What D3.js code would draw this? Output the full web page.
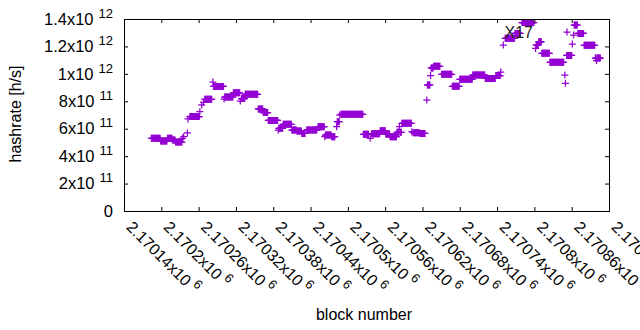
<!DOCTYPE html>
<html>
<head>
<meta charset="utf-8">
<script src="https://cdn.jsdelivr.net/npm/d3@7"></script>
<style>
  body { margin: 0; background: #fff; }
  svg { display: block; font-family: "Liberation Sans", Arial, sans-serif; }
</style>
</head>
<body>
<div id="chart"></div>
<script>
// runs of blocks sharing one hashrate value (start block, end block, h/s)
var runStart = [2170184, 2170199, 2170210, 2170218, 2170223, 2170234, 2170236, 2170242, 2170243, 2170246,
                2170262, 2170265, 2170268, 2170270, 2170283, 2170284, 2170301, 2170302, 2170316, 2170327,
                2170329, 2170335, 2170356, 2170364, 2170372, 2170388, 2170389, 2170396, 2170410, 2170418,
                2170426, 2170434, 2170452, 2170463, 2170464, 2170474, 2170482, 2170483, 2170487, 2170489,
                2170525, 2170536, 2170538, 2170552, 2170561, 2170568, 2170579, 2170583, 2170584, 2170587,
                2170603, 2170605, 2170616, 2170627, 2170628, 2170633, 2170634, 2170638, 2170651, 2170668,
                2170680, 2170701, 2170721, 2170738, 2170746, 2170750, 2170753, 2170769, 2170780, 2170802,
                2170803, 2170807, 2170812, 2170825, 2170849, 2170850, 2170852, 2170861, 2170863, 2170864,
                2170870, 2170880, 2170898, 2170900, 2170901];
var runEnd   = [2170198, 2170209, 2170217, 2170222, 2170233, 2170234, 2170236, 2170242, 2170243, 2170261,
                2170262, 2170265, 2170268, 2170281, 2170283, 2170300, 2170301, 2170315, 2170326, 2170327,
                2170334, 2170355, 2170363, 2170371, 2170387, 2170388, 2170395, 2170409, 2170417, 2170425,
                2170431, 2170450, 2170462, 2170463, 2170473, 2170479, 2170482, 2170486, 2170487, 2170524,
                2170533, 2170536, 2170551, 2170560, 2170567, 2170578, 2170582, 2170583, 2170586, 2170602,
                2170603, 2170615, 2170624, 2170627, 2170632, 2170633, 2170637, 2170648, 2170667, 2170679,
                2170700, 2170720, 2170737, 2170745, 2170746, 2170750, 2170768, 2170777, 2170799, 2170802,
                2170806, 2170811, 2170824, 2170847, 2170849, 2170850, 2170860, 2170861, 2170863, 2170869,
                2170879, 2170897, 2170899, 2170900, 2170906];
var runHashrate = [5.30e11, 5.10e11, 5.30e11, 5.18e11, 5.03e11, 5.30e11, 5.42e11, 5.69e11, 6.71e11, 6.89e11,
                   7.24e11, 7.73e11, 7.92e11, 8.14e11, 9.40e11, 9.08e11, 8.16e11, 8.31e11, 8.62e11, 8.02e11,
                   8.20e11, 8.51e11, 7.44e11, 7.18e11, 6.60e11, 5.90e11, 6.03e11, 6.32e11, 5.90e11, 5.83e11,
                   5.66e11, 5.90e11, 6.15e11, 5.42e11, 5.54e11, 5.42e11, 6.15e11, 6.51e11, 7.00e11, 7.05e11,
                   5.59e11, 5.30e11, 5.63e11, 5.85e11, 5.61e11, 5.42e11, 5.74e11, 6.15e11, 5.74e11, 6.39e11,
                   5.78e11, 5.71e11, 5.66e11, 8.09e11, 9.19e11, 9.88e11, 10.43e11, 10.55e11, 9.97e11, 9.09e11,
                   9.60e11, 9.91e11, 9.67e11, 9.88e11, 10.13e11, 12.10e11, 12.59e11, 12.95e11, 13.74e11, 11.85e11,
                   12.10e11, 12.34e11, 11.50e11, 10.84e11, 9.91e11, 9.31e11, 11.34e11, 12.17e11, 12.83e11, 13.56e11,
                   12.95e11, 12.08e11, 11.15e11, 10.97e11, 11.15e11];

var xTicks = [2170140, 2170200, 2170260, 2170320, 2170380, 2170440, 2170500,
              2170560, 2170620, 2170680, 2170740, 2170800, 2170860, 2170920];
var xTickMantissa = ["2.17014", "2.1702", "2.17026", "2.17032", "2.17038", "2.17044", "2.1705",
                     "2.17056", "2.17062", "2.17068", "2.17074", "2.1708", "2.17086", "2.1709"];
var yTicks = [0, 2e11, 4e11, 6e11, 8e11, 1e12, 1.2e12, 1.4e12];
var yTickMantissa = ["0", "2", "4", "6", "8", "1", "1.2", "1.4"];
var yTickExponent = ["", "11", "11", "11", "11", "12", "12", "12"];

var seriesName = "X17";
var color = "#9400d3";

var width = 640, height = 330;
var plotLeft = 124, plotRight = 609, plotTop = 19, plotBottom = 211;

// one point per block inside each run
var points = [];
runStart.forEach(function (s, i) {
    for (var b = s; b <= runEnd[i]; b++) points.push({ block: b, value: runHashrate[i] });
});

var x = d3.scaleLinear().domain([xTicks[0], xTicks[xTicks.length - 1]]).range([plotLeft, plotRight]);
var y = d3.scaleLinear().domain([0, 1.4e12]).range([plotBottom, plotTop]);

var svg = d3.select("#chart").append("svg")
    .attr("width", width)
    .attr("height", height);

svg.append("rect").attr("width", width).attr("height", height).attr("fill", "#fff");

var plus = "M-3.5,0H3.5M0,-3.5V3.5";

// points
svg.append("g")
    .selectAll("path")
    .data(points)
    .join("path")
    .attr("d", plus)
    .attr("transform", function (d) { return "translate(" + x(d.block) + "," + y(d.value) + ")"; })
    .attr("fill", "none")
    .attr("stroke", color)
    .attr("stroke-width", 1.25);

// axes, ticks pointing inwards like gnuplot
var axisStyle = function (g) {
    g.selectAll(".domain").remove();
    g.selectAll(".tick line").attr("stroke", "#000");
};

var gx = svg.append("g")
    .attr("transform", "translate(0," + plotBottom + ")")
    .call(d3.axisBottom(x).tickValues(xTicks).tickSizeInner(-4).tickSizeOuter(0).tickFormat(""))
    .call(axisStyle);

gx.selectAll(".tick text")
    .attr("y", 0)
    .attr("dy", 0)
    .attr("text-anchor", "start")
    .attr("font-size", 16)
    .attr("fill", "#000")
    .attr("transform", "translate(1,17) rotate(45)")
    .each(function (d, i) {
        var t = d3.select(this);
        t.append("tspan").text(xTickMantissa[i] + "x10");
        t.append("tspan").attr("dx", 4).attr("dy", -7).attr("font-size", 12.8).text("6");
    });

svg.append("g")
    .attr("transform", "translate(0," + plotTop + ")")
    .call(d3.axisTop(x).tickValues(xTicks).tickSizeInner(-4).tickSizeOuter(0).tickFormat(""))
    .call(axisStyle);

var gy = svg.append("g")
    .attr("transform", "translate(" + plotLeft + ",0)")
    .call(d3.axisLeft(y).tickValues(yTicks).tickSizeInner(-4).tickSizeOuter(0).tickPadding(11).tickFormat(""))
    .call(axisStyle);

gy.selectAll(".tick text")
    .attr("font-size", 16.5)
    .attr("fill", "#000")
    .each(function (d, i) {
        var t = d3.select(this);
        if (yTickExponent[i] === "") {
            t.text(yTickMantissa[i]);
        } else {
            t.append("tspan").text(yTickMantissa[i] + "x10");
            t.append("tspan").attr("dx", 5).attr("dy", -7).attr("font-size", 13).text(yTickExponent[i]);
        }
    });

svg.append("g")
    .attr("transform", "translate(" + plotRight + ",0)")
    .call(d3.axisRight(y).tickValues(yTicks).tickSizeInner(-4).tickSizeOuter(0).tickFormat(""))
    .call(axisStyle);

// frame
svg.append("rect")
    .attr("x", plotLeft + 0.5).attr("y", plotTop + 0.5)
    .attr("width", plotRight - plotLeft).attr("height", plotBottom - plotTop)
    .attr("fill", "none").attr("stroke", "#000").attr("stroke-width", 1);

// key
svg.append("text")
    .attr("x", 533).attr("y", 38)
    .attr("text-anchor", "end")
    .attr("font-size", 16)
    .attr("fill", "#222")
    .text(seriesName);
svg.append("path")
    .attr("d", plus)
    .attr("transform", "translate(567,32)")
    .attr("fill", "none")
    .attr("stroke", color)
    .attr("stroke-width", 1.25);

// axis titles
svg.append("text")
    .attr("transform", "translate(21,114) rotate(-90)")
    .attr("text-anchor", "middle")
    .attr("font-size", 16)
    .text("hashrate [h/s]");

svg.append("text")
    .attr("x", 364).attr("y", 320)
    .attr("text-anchor", "middle")
    .attr("font-size", 16)
    .text("block number");
</script>
</body>
</html>
